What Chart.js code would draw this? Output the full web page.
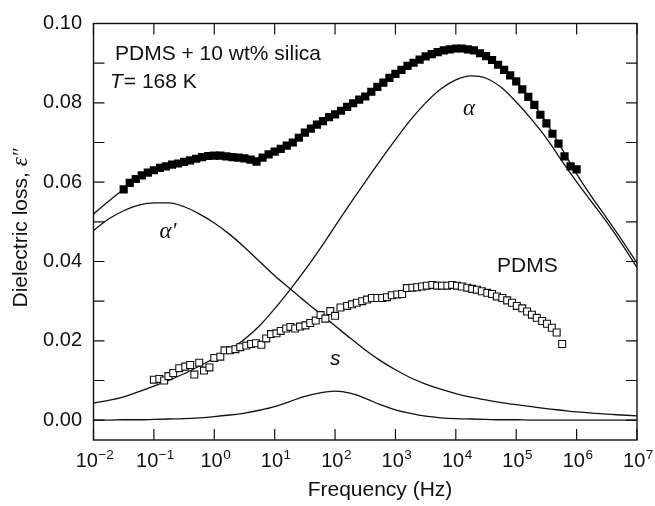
<!DOCTYPE html>
<html><head><meta charset="utf-8">
<script src="https://cdn.jsdelivr.net/npm/chart.js@4.4.1/dist/chart.umd.min.js"></script>
<style>html,body{margin:0;padding:0;background:#fff;}canvas{display:block;}</style>
</head><body>
<canvas id="c" width="655" height="506"></canvas>
<script>
// ---- tick definitions ----
const xTickExponents = [-2, -1, 0, 1, 2, 3, 4, 5, 6, 7];
const yTickValues = [0, 0.01, 0.02, 0.03, 0.04, 0.05, 0.06, 0.07, 0.08, 0.09, 0.10];
const yLabelValues = [0, 0.02, 0.04, 0.06, 0.08, 0.10];

// ---- PDMS + 10 wt% silica (filled squares): log10(f/Hz), eps'' ----
const filledLogF = [-1.5,-1.4,-1.3,-1.2,-1.1,-1.0,-0.9,-0.8,-0.7,-0.6,-0.5,-0.4,-0.3,-0.2,-0.1,0.0,0.1,0.2,0.3,0.4,0.5,0.6,0.7,0.8,0.9,1.0,1.1,1.2,1.3,1.4,1.5,1.6,1.7,1.8,1.9,2.0,2.1,2.2,2.3,2.4,2.5,2.6,2.7,2.8,2.9,3.0,3.1,3.2,3.3,3.4,3.5,3.6,3.7,3.8,3.9,4.0,4.1,4.2,4.3,4.4,4.5,4.6,4.7,4.8,4.9,5.0,5.1,5.2,5.3,5.4,5.5,5.6,5.7,5.8,5.9,6.0];
const filledEps = [0.0582,0.0598,0.0608,0.0617,0.0624,0.0630,0.0636,0.0640,0.0644,0.0647,0.0651,0.0655,0.0659,0.0663,0.0666,0.0667,0.0667,0.0665,0.0663,0.0662,0.0660,0.0657,0.0652,0.0662,0.0670,0.0677,0.0684,0.0692,0.0700,0.0712,0.0725,0.0735,0.0745,0.0754,0.0764,0.0771,0.0780,0.0790,0.0799,0.0808,0.0816,0.0828,0.0840,0.0851,0.0863,0.0873,0.0883,0.0893,0.0901,0.0909,0.0917,0.0923,0.0928,0.0932,0.0935,0.0937,0.0937,0.0935,0.0932,0.0925,0.0918,0.0908,0.0896,0.0883,0.0869,0.0854,0.0834,0.0815,0.0795,0.0770,0.0748,0.0722,0.0697,0.0665,0.0640,0.0632];

// ---- pure PDMS (open squares) ----
const pdmsLogF = [-1.00,-0.91,-0.83,-0.76,-0.68,-0.58,-0.48,-0.40,-0.33,-0.25,-0.17,-0.08,0.00,0.10,0.17,0.26,0.35,0.43,0.53,0.61,0.69,0.78,0.86,0.94,1.03,1.10,1.19,1.26,1.34,1.42,1.51,1.59,1.68,1.76,1.84,1.92,2.00,2.09,2.20,2.28,2.36,2.45,2.53,2.61,2.70,2.78,2.86,2.94,3.03,3.11,3.19,3.28,3.36,3.44,3.52,3.61,3.69,3.77,3.86,3.94,4.02,4.10,4.19,4.27,4.35,4.43,4.52,4.60,4.68,4.77,4.85,4.93,5.01,5.10,5.18,5.26,5.34,5.43,5.51,5.59,5.67,5.76];
const pdmsEps = [0.0102,0.0104,0.0100,0.0111,0.0119,0.0131,0.0135,0.0139,0.0115,0.0145,0.0125,0.0133,0.0157,0.0160,0.0176,0.0176,0.0179,0.0184,0.0188,0.0192,0.0194,0.0190,0.0206,0.0217,0.0219,0.0225,0.0231,0.0235,0.0231,0.0236,0.0239,0.0245,0.0251,0.0265,0.0256,0.0275,0.0263,0.0284,0.0288,0.0292,0.0296,0.0300,0.0304,0.0308,0.0308,0.0308,0.0310,0.0315,0.0317,0.0318,0.0333,0.0334,0.0335,0.0337,0.0339,0.0341,0.0339,0.0339,0.0339,0.0341,0.0339,0.0337,0.0334,0.0331,0.0329,0.0325,0.0321,0.0318,0.0312,0.0308,0.0302,0.0296,0.0288,0.0282,0.0274,0.0266,0.0258,0.0250,0.0243,0.0233,0.0221,0.0192];

// ---- fit curves ----
const curveLogF = [-2.0,-1.75,-1.5,-1.25,-1.0,-0.75,-0.5,-0.25,0.0,0.25,0.5,0.75,1.0,1.25,1.5,1.75,2.0,2.25,2.5,2.75,3.0,3.25,3.5,3.75,4.0,4.25,4.5,4.75,5.0,5.25,5.5,5.75,6.0,6.25,6.5,6.75,7.0];
const totalFit = [0.0520,0.0552,0.0582,0.0610,0.0630,0.0642,0.0651,0.0659,0.0664,0.0664,0.0661,0.0662,0.0676,0.0697,0.0722,0.0749,0.0774,0.0797,0.0821,0.0847,0.0874,0.0897,0.0916,0.0930,0.0936,0.0933,0.0917,0.0890,0.0853,0.0805,0.0750,0.0686,0.0621,0.0563,0.0509,0.0454,0.0396];
const alphaFit = [0.0043,0.0050,0.0059,0.0072,0.0086,0.0101,0.0117,0.0136,0.0156,0.0177,0.0204,0.0238,0.0281,0.0328,0.0378,0.0432,0.0489,0.0546,0.0601,0.0655,0.0707,0.0757,0.0800,0.0835,0.0858,0.0868,0.0862,0.0839,0.0802,0.0759,0.0711,0.0655,0.0601,0.0550,0.0499,0.0444,0.0385];
const alphaPrimeFit = [0.0478,0.0507,0.0528,0.0542,0.0548,0.0548,0.0538,0.0520,0.0497,0.0469,0.0436,0.0400,0.0364,0.0332,0.0300,0.0269,0.0238,0.0207,0.0177,0.0150,0.0127,0.0107,0.0091,0.0078,0.0067,0.0058,0.0051,0.0044,0.0039,0.0034,0.0029,0.0025,0.0021,0.0018,0.0015,0.0013,0.0011];
const sFit = [0.0000,0.0000,0.0001,0.0001,0.0002,0.0003,0.0004,0.0006,0.0009,0.0013,0.0018,0.0025,0.0034,0.0047,0.0060,0.0069,0.0073,0.0068,0.0055,0.0039,0.0026,0.0017,0.0010,0.0006,0.0004,0.0003,0.0002,0.0001,0.0001,0.0000,0.0000,0.0000,0.0000,0.0000,0.0000,0.0000,0.0000];

const toPts = (lf, v) => lf.map((l, i) => ({x: Math.pow(10, l), y: v[i]}));
const INK = '#111';
const SANS = '"Liberation Sans", Arial, sans-serif';
const SERIF = '"Liberation Serif", "Times New Roman", serif';

function curve(data) {
  return {data, showLine: true, pointRadius: 0, borderColor: INK, borderWidth: 1.3,
          cubicInterpolationMode: 'monotone', fill: false};
}

const decor = {
  id: 'decor',
  afterDraw(chart) {
    const {ctx, chartArea: a, scales: {x, y}} = chart;
    const TL = 11;
    ctx.save();
    ctx.strokeStyle = INK;
    ctx.lineWidth = 1.4;
    ctx.strokeRect(a.left, a.top, a.right - a.left, a.bottom - a.top);
    ctx.lineWidth = 1.2;
    ctx.beginPath();
    xTickExponents.forEach(e => {
      const px = x.getPixelForValue(Math.pow(10, e));
      ctx.moveTo(px, a.bottom); ctx.lineTo(px, a.bottom - TL);
      ctx.moveTo(px, a.top); ctx.lineTo(px, a.top + TL);
    });
    yTickValues.forEach(v => {
      const py = y.getPixelForValue(v);
      ctx.moveTo(a.left, py); ctx.lineTo(a.left + TL, py);
      ctx.moveTo(a.right, py); ctx.lineTo(a.right - TL, py);
    });
    ctx.stroke();

    // x tick labels with superscripts
    ctx.fillStyle = INK;
    ctx.textBaseline = 'alphabetic';
    ctx.textAlign = 'left';
    xTickExponents.forEach(e => {
      const px = x.getPixelForValue(Math.pow(10, e));
      const sup = (e < 0 ? '\u2212' : '') + Math.abs(e);
      ctx.font = '20px ' + SANS;
      const w1 = ctx.measureText('10').width;
      ctx.font = '13.5px ' + SANS;
      const w2 = ctx.measureText(sup).width;
      const x0 = px - (w1 + w2) / 2 + 1;
      ctx.font = '20px ' + SANS;
      ctx.fillText('10', x0, 467);
      ctx.font = '13.5px ' + SANS;
      ctx.fillText(sup, x0 + w1 + 0.5, 459);
    });

    // x axis title
    ctx.font = '21px ' + SANS;
    ctx.textAlign = 'center';
    ctx.fillText('Frequency (Hz)', 380, 496);

    // y axis title (rotated, mixed fonts)
    ctx.save();
    ctx.translate(27, 228);
    ctx.rotate(-Math.PI / 2);
    ctx.textAlign = 'left';
    const runs = [
      {t: 'Dielectric loss, ', f: '21px ' + SANS},
      {t: '\u03B5', f: 'italic 23px ' + SERIF},
      {t: '\u2033', f: 'italic 21px ' + SERIF}
    ];
    let tot = 0;
    runs.forEach(r => { ctx.font = r.f; r.w = ctx.measureText(r.t).width; tot += r.w; });
    let cx = -tot / 2;
    runs.forEach(r => { ctx.font = r.f; ctx.fillText(r.t, cx, 0); cx += r.w; });
    ctx.restore();

    // annotations
    ctx.textAlign = 'left';
    ctx.font = '21px ' + SANS;
    ctx.fillText('PDMS + 10 wt% silica', 115, 60);
    ctx.font = 'italic 21px ' + SANS;
    ctx.fillText('T', 110, 88);
    const wT = ctx.measureText('T').width;
    ctx.font = '21px ' + SANS;
    ctx.fillText('= 168 K', 110 + wT + 1, 88);
    ctx.fillText('PDMS', 497, 272);
    ctx.font = 'italic 21px ' + SANS;
    ctx.fillText('s', 330, 365);
    ctx.font = 'italic 23px ' + SERIF;
    ctx.textAlign = 'center';
    ctx.fillText('\u03B1', 469, 115);
    ctx.fillText('\u03B1\u2032', 168, 238);
    ctx.restore();
  }
};

new Chart(document.getElementById('c'), {
  type: 'scatter',
  data: {
    datasets: [
      {data: toPts(filledLogF, filledEps), pointStyle: 'rect', pointRadius: 5.8,
       backgroundColor: '#000', borderWidth: 0, showLine: false},
      {data: toPts(pdmsLogF, pdmsEps), pointStyle: 'rect', pointRadius: 4.9,
       backgroundColor: '#fff', borderColor: INK, borderWidth: 1.1, showLine: false},
      curve(toPts(curveLogF, totalFit)),
      curve(toPts(curveLogF, alphaFit)),
      curve(toPts(curveLogF, alphaPrimeFit)),
      curve(toPts(curveLogF, sFit))
    ]
  },
  options: {
    responsive: false,
    animation: false,
    devicePixelRatio: 1,
    layout: {padding: {left: 0, top: 10, right: 18, bottom: 0}},
    plugins: {legend: {display: false}, tooltip: {enabled: false}},
    scales: {
      x: {
        type: 'logarithmic', min: 0.01, max: 1e7,
        grid: {display: false, drawTicks: false}, border: {display: false},
        ticks: {display: false},
        afterBuildTicks: s => { s.ticks = xTickExponents.map(e => ({value: Math.pow(10, e)})); },
        afterFit: s => { s.height = 66; }
      },
      y: {
        type: 'linear', min: -0.005, max: 0.10,
        grid: {display: false, drawTicks: false}, border: {display: false},
        ticks: {
          color: INK, padding: 11.5, font: {family: SANS, size: 20},
          callback: v => yLabelValues.some(l => Math.abs(l - v) < 1e-9) ? Number(v).toFixed(2) : ''
        },
        afterBuildTicks: s => { s.ticks = yTickValues.map(v => ({value: v})); },
        afterFit: s => { s.width = 93.5; }
      }
    }
  },
  plugins: [decor]
});
</script>
</body></html>
